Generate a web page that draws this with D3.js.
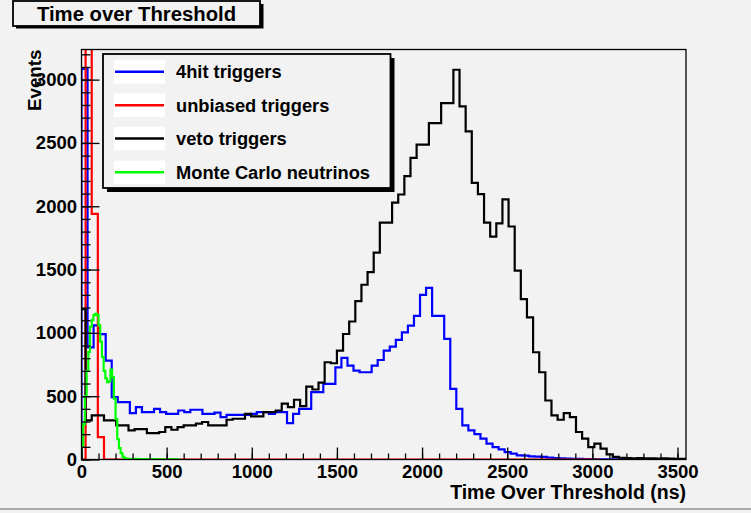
<!DOCTYPE html>
<html><head><meta charset="utf-8">
<script src="https://cdn.jsdelivr.net/npm/d3@7"></script>
<style>
html,body{margin:0;padding:0;background:#f2f2f2;}
svg{display:block;}
text{font-family:"Liberation Sans",Arial,Helvetica,sans-serif;font-weight:bold;fill:#000;}
</style></head><body>
<svg id="c" width="751" height="513"></svg>
<script>
// ---------------- data ----------------
const titleText = "Time over Threshold";
const xLabel = "Time Over Threshold (ns)";
const yLabel = "Events";
const seriesNames = ["4hit triggers", "unbiased triggers", "veto triggers", "Monte Carlo neutrinos"];
const seriesColors = ["#0000ff", "#ff0000", "#000000", "#00ff00"];

const xTickValues = [0, 500, 1000, 1500, 2000, 2500, 3000, 3500];
const yTickValues = [0, 500, 1000, 1500, 2000, 2500, 3000];
const xDomain = [0, 3550];
const yDomain = [0, 3238];

// 4hit triggers: bins of 35.5 ns starting at 0
const hit4Start = 0, hit4Width = 35.5;
const hit4Counts = [3084, 886, 1060, 990, 781, 492, 453, 453, 366, 413,
  374, 374, 400, 374, 361, 361, 387, 374, 393, 393,
  361, 361, 370, 335, 352, 352, 352, 352, 361, 374,
  374, 361, 374, 374, 288, 361, 400, 400, 532, 532,
  597, 597, 728, 802, 742, 702, 689, 689, 742, 786,
  860, 891, 944, 1004, 1057, 1135, 1300, 1356, 1135, 1135,
  952, 558, 400, 269, 230, 200, 165, 125, 98, 80,
  59, 46, 33, 30, 25, 22, 20, 15, 12, 10,
  8, 6, 5, 4, 3, 2, 2, 1, 1, 1,
  1, 0, 1, 0, 0, 0, 0, 0, 0, 0];

// unbiased triggers: bins of 36 ns starting at -12
const unbiasedStart = -12, unbiasedWidth = 36;
const unbiasedCounts = [0, 4800, 1940, 177, 0, 0, 0, 0, 0, 0,
  0, 0, 0, 0, 0, 0, 0, 0, 0, 0,
  0, 0, 0, 0, 0, 0, 0, 0, 0, 0,
  0, 0, 0, 0, 0, 0, 0, 0, 0, 0,
  0, 0, 0, 0, 0, 0, 0, 0, 0, 0,
  0, 0, 0, 0, 0, 0, 0, 0, 0, 0,
  0, 0, 0, 0, 0, 0, 0, 0, 0, 0,
  0, 0, 0, 0, 0, 0, 0, 0, 0, 0,
  0, 0, 0, 0, 0];

// veto triggers: bins of 36 ns starting at -12
const vetoStart = -12, vetoWidth = 36;
const vetoCounts = [1188, 309, 348, 348, 309, 309, 269, 269, 230, 240,
  240, 209, 209, 217, 256, 235, 256, 270, 270, 283,
  296, 269, 269, 269, 314, 322, 322, 361, 340, 340,
  374, 374, 387, 442, 413, 472, 422, 576, 553, 607,
  768, 760, 860, 991, 1090, 1250, 1380, 1480, 1634, 1870,
  1870, 2028, 2093, 2238, 2382, 2487, 2487, 2657, 2657, 2815,
  2815, 3078, 2789, 2592, 2185, 2096, 1870, 1760, 1865, 2054,
  1840, 1492, 1267, 1122, 847, 689, 466, 348, 314, 366,
  335, 217, 165, 98, 125, 86, 40, 20, 14, 12,
  10, 12, 9, 10, 8, 9, 7, 6, 5];

// Monte Carlo neutrinos: bins of 10 ns starting at 0
const mcStart = 0, mcWidth = 10;
const mcCounts = [100, 280, 500, 700, 850, 1050, 1100, 1140, 1150, 1140,
  1060, 930, 810, 700, 640, 610, 620, 710, 650, 480,
  320, 160, 90, 50, 22, 12, 7, 5, 4, 6,
  3, 4, 5, 3, 2, 4, 3, 2, 3, 2,
  1, 2, 3, 1, 2, 1, 1, 2, 1, 1,
  0, 1, 1, 0, 1, 0, 1];

// ---------------- drawing ----------------
const svg = d3.select("#c");
const W = 751, H = 513;
const frame = {left: 81.5, right: 686, top: 49.5, bottom: 459.5};

svg.append("rect").attr("x", 0).attr("y", 0).attr("width", W).attr("height", H).attr("fill", "#f2f2f2");
// canvas bevel at bottom
svg.append("rect").attr("x", 0).attr("y", 508).attr("width", W).attr("height", 2).attr("fill", "#a8a8a8");

const x = d3.scaleLinear().domain(xDomain).range([frame.left, frame.right]);
const y = d3.scaleLinear().domain(yDomain).range([frame.bottom, frame.top]);

svg.append("clipPath").attr("id", "fclip").append("rect")
  .attr("x", frame.left).attr("y", frame.top)
  .attr("width", frame.right - frame.left).attr("height", frame.bottom - frame.top);

function histPoints(start, width, counts) {
  const pts = [[x(start), y(0)]];
  counts.forEach((c, i) => {
    const x0 = x(start + i * width), x1 = x(start + (i + 1) * width);
    pts.push([x0, y(c)], [x1, y(c)]);
  });
  pts.push([x(start + counts.length * width), y(0)]);
  return pts;
}

const hists = [
  {start: hit4Start, width: hit4Width, counts: hit4Counts, color: seriesColors[0]},
  {start: unbiasedStart, width: unbiasedWidth, counts: unbiasedCounts, color: seriesColors[1]},
  {start: vetoStart, width: vetoWidth, counts: vetoCounts, color: seriesColors[2]},
  {start: mcStart, width: mcWidth, counts: mcCounts, color: seriesColors[3]}
];

const gh = svg.append("g").attr("clip-path", "url(#fclip)");
const line = d3.line();
hists.forEach(h => {
  gh.append("path").attr("d", line(histPoints(h.start, h.width, h.counts)))
    .attr("fill", "none").attr("stroke", h.color).attr("stroke-width", 2.2)
    .attr("stroke-linejoin", "miter");
});

// axes: minor + major ticks, inward
const xMinor = d3.range(0, 3551, 100);
const yMinor = d3.range(0, 3201, 100);
const gxMinor = svg.append("g").attr("transform", `translate(0,${frame.bottom})`)
  .call(d3.axisBottom(x).tickValues(xMinor).tickSize(-6).tickFormat(""));
const gx = svg.append("g").attr("transform", `translate(0,${frame.bottom})`)
  .call(d3.axisBottom(x).tickValues(xTickValues).tickSize(-12).tickPadding(5.5).tickFormat(d3.format("d")));
const gyMinor = svg.append("g").attr("transform", `translate(${frame.left},0)`)
  .call(d3.axisLeft(y).tickValues(yMinor).tickSize(-9).tickFormat(""));
const gy = svg.append("g").attr("transform", `translate(${frame.left},0)`)
  .call(d3.axisLeft(y).tickValues(yTickValues).tickSize(-18).tickPadding(4.5).tickFormat(d3.format("d")));
[gxMinor, gx, gyMinor, gy].forEach(g => {
  g.select(".domain").remove();
  g.selectAll("line").attr("stroke", "#000").attr("stroke-width", 1.3);
  g.selectAll("text").attr("font-family", '"Liberation Sans",Arial,sans-serif')
    .attr("font-weight", "bold").attr("font-size", 18.5).attr("fill", "#000");
});

// frame
svg.append("rect").attr("x", frame.left).attr("y", frame.top)
  .attr("width", frame.right - frame.left).attr("height", frame.bottom - frame.top)
  .attr("fill", "none").attr("stroke", "#000").attr("stroke-width", 1.3);

// axis titles
svg.append("text").attr("x", frame.right).attr("y", 498.5).attr("text-anchor", "end")
  .attr("font-size", 19.5).text(xLabel);
svg.append("text").attr("transform", `translate(40.5,${frame.top}) rotate(-90)`)
  .attr("text-anchor", "end").attr("font-size", 18.8).text(yLabel);

// title box
svg.append("rect").attr("x", 16).attr("y", 4).attr("width", 247.5).attr("height", 24.5).attr("fill", "#000");
svg.append("rect").attr("x", 13).attr("y", 1).attr("width", 247).attr("height", 25)
  .attr("fill", "#f2f2f2").attr("stroke", "#000").attr("stroke-width", 1.8);
svg.append("text").attr("x", 136.5).attr("y", 20.8).attr("text-anchor", "middle")
  .attr("font-size", 20.3).text(titleText);

// legend
const lg = {x: 103, y: 54, w: 287.5, h: 134};
svg.append("rect").attr("x", lg.x + 4).attr("y", lg.y + 4).attr("width", lg.w).attr("height", lg.h).attr("fill", "#000");
svg.append("rect").attr("x", lg.x).attr("y", lg.y).attr("width", lg.w).attr("height", lg.h)
  .attr("fill", "#f2f2f2").attr("stroke", "#000").attr("stroke-width", 1.8);
const rowY = [71.8, 105.2, 138.5, 172.3];
seriesNames.forEach((name, i) => {
  const cy = rowY[i];
  svg.append("rect").attr("x", 114).attr("y", cy - 11.7).attr("width", 51).attr("height", 23.4).attr("fill", "#ffffff");
  svg.append("line").attr("x1", 115).attr("x2", 164).attr("y1", cy).attr("y2", cy)
    .attr("stroke", seriesColors[i]).attr("stroke-width", 2.6);
  svg.append("text").attr("x", 176).attr("y", cy + 6.3).attr("font-size", 18.3).text(name);
});
</script>
</body></html>
